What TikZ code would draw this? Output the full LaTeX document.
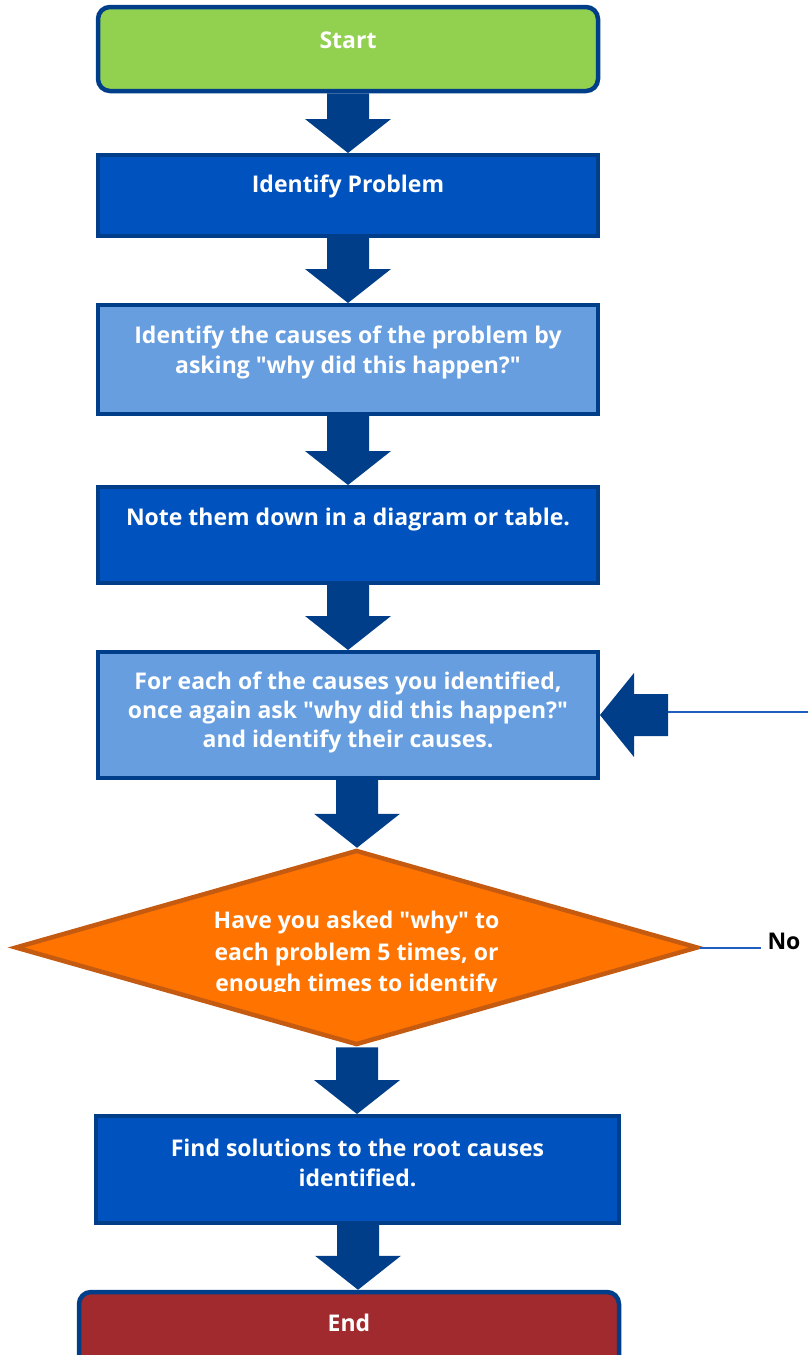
\documentclass[tikz,border=0pt]{standalone}
\usepackage{fontspec}
\setmainfont{Open Sans}
\usetikzlibrary{shapes.geometric,positioning,calc}
\definecolor{flowblue}{RGB}{0,62,137}
\definecolor{procdark}{RGB}{0,82,190}
\definecolor{proclight}{RGB}{102,158,224}
\definecolor{startgreen}{RGB}{146,208,80}
\definecolor{endred}{RGB}{160,42,45}
\definecolor{decfill}{RGB}{255,115,0}
\definecolor{decline}{RGB}{197,90,17}
\definecolor{nolink}{RGB}{30,94,190}
\newcommand{\dq}{\textquotedbl}

\begin{document}
\begin{tikzpicture}[x=1pt,y=1pt,
  term/.style={rectangle,rounded corners=12pt,draw=flowblue,line width=4.5pt,minimum width=500pt,minimum height=84pt,inner sep=0pt},
  proc/.style={rectangle,draw=flowblue,line width=4pt,minimum width=500pt,inner sep=0pt},
  dark/.style={proc,fill=procdark},
  light/.style={proc,fill=proclight},
  dec/.style={diamond,draw=decline,fill=decfill,line width=4.5pt,minimum width=683pt,minimum height=195pt,inner sep=0pt},
  txt/.style={text=white,font=\bfseries\fontsize{23}{30}\selectfont,align=center,inner sep=0pt},
  blk/.style={fill=flowblue},
  noline/.style={draw=nolink,line width=2pt},
  nolab/.style={font=\bfseries\fontsize{23}{28}\selectfont,inner sep=6pt}]
  \clip (0,0) rectangle (808,-1355);
  % ---------- boxes ----------
  \node[term,fill=startgreen] (start) at (348,-49) {};
  \node[dark,minimum height=81pt] (prob) at (348,-195.5) {};
  \node[light,minimum height=109pt] (causes) at (348,-359.5) {};
  \node[dark,minimum height=96pt] (note) at (348,-535) {};
  \node[light,minimum height=126pt] (each) at (348,-715) {};
  \node[dec] (check) at (356.5,-947.5) {};
  \node[dark,minimum width=523pt,minimum height=107pt] (sol) at (357.5,-1169.5) {};
  \node[term,fill=endred,minimum width=540pt] (end) at (349,-1334) {};
  % ---------- texts, hung from the top edge ----------
  \node[txt,below=26.5pt of start.north] (starttext) {Start};
  \node[txt,below=21.5pt of prob.north] (probtext) {Identify Problem};
  \node[txt,below=22.5pt of causes.north] (causestext) {Identify the causes of the problem by\\asking \dq why did this happen?\dq};
  \node[txt,below=22.5pt of note.north] (notetext) {Note them down in a diagram or table.};
  \node[txt,below=21.5pt of each.north,font=\bfseries\fontsize{23}{29}\selectfont] (eachtext) {For each of the causes you identified,\\once again ask \dq why did this happen?\dq\\and identify their causes.};
  \node[txt,below=24.5pt of sol.north] (soltext) {Find solutions to the root causes\\identified.};
  \node[txt,below=24.5pt of end.north] (endtext) {End};
  % ---------- diamond text, cut off at the third line ----------
  \begin{scope}
    \clip (150,-903) rectangle (560,-991);
    \node[txt,font=\bfseries\fontsize{23}{31.5}\selectfont] (checktext) at ($(check.center)+(0,-7)$) {Have you asked \dq why\dq{} to\\each problem 5 times, or\\enough times to identify};
  \end{scope}
  % ---------- block arrows down ----------
  \foreach \a/\b/\c in {start/prob/348,prob/causes/348,causes/note/348,note/each/348,each/check/357,check/sol/357,sol/end/358}
    \fill[blk] let \p1=(\a.south), \p2=(\b.north), \p3=(\c,0) in
      ({\x3-21pt},\y1) -- ({\x3+21pt},\y1) -- ({\x3+21pt},{\y2+34pt}) -- ({\x3+43pt},{\y2+34pt})
      -- (\x3,\y2) -- ({\x3-43pt},{\y2+34pt}) -- ({\x3-21pt},{\y2+34pt}) -- cycle;
  % ---------- loop back ----------
  \fill[blk] let \p1=(each.east) in (\x1,\y1) -- ({\x1+34pt},{\y1+42pt}) -- ({\x1+34pt},{\y1+21pt})
    -- ({\x1+68pt},{\y1+21pt}) -- ({\x1+68pt},{\y1-21pt}) -- ({\x1+34pt},{\y1-21pt}) -- ({\x1+34pt},{\y1-42pt}) -- cycle;
  \coordinate (loopin) at ($(each.east)+(68,3)$);
  \coordinate (loopend) at (808,-712);
  \draw[noline] (loopend) -- (loopin);
  \node[nolab] (no) at (784,-941) {No};
  \draw[noline] (check.east) -- (check.east -| no.west);
\end{tikzpicture}
\end{document}
